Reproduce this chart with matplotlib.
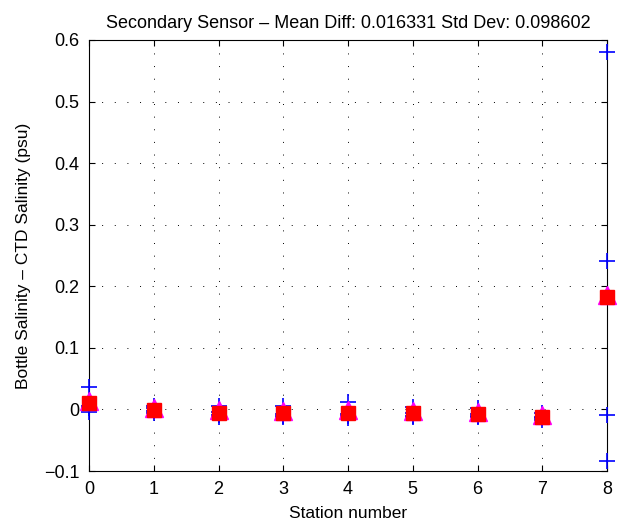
import matplotlib
matplotlib.use("Agg")
import matplotlib.pyplot as plt
import matplotlib.transforms as mtransforms
import numpy as np

plt.rcParams['font.family'] = ['Liberation Sans', 'DejaVu Sans']

stations = [0, 1, 2, 3, 4, 5, 6, 7, 8]
diffs = [
    [0.037, 0.005, 0.002, -0.004],
    [0.005, 0.002, -0.003, -0.006],
    [0.006, -0.004, -0.009, -0.013],
    [0.006, -0.008, -0.010, -0.012],
    [0.012, -0.008, -0.010, -0.014],
    [0.004, -0.006, -0.010, -0.012],
    [0.002, -0.008, -0.010, -0.012],
    [-0.005, -0.012, -0.014, -0.017],
    [0.580, 0.2415, -0.009, -0.083],
]
title = "Secondary Sensor \u2013 Mean Diff: 0.016331 Std Dev: 0.098602"
xticks = [0, 1, 2, 3, 4, 5, 6, 7, 8]
yticks = [-0.1, 0, 0.1, 0.2, 0.3, 0.4, 0.5, 0.6]
ytick_labels = ["\u22120.1", "0", "0.1", "0.2", "0.3", "0.4", "0.5", "0.6"]

fig = plt.figure(figsize=(6.31, 5.31), dpi=100)
ax = fig.add_axes([89/631, 60/531, (607-89)/631, (471-40)/531])

for s, vals in zip(stations, diffs):
    ax.plot([s]*len(vals), vals, linestyle='none', marker='+', color='#0000ff',
            markersize=11, markeredgewidth=1.2, clip_on=False, zorder=3)
means = [np.mean(v) for v in diffs]
tri_trans = mtransforms.offset_copy(ax.transData, fig=fig, x=0, y=1.6, units='points')
ax.plot(stations, means, linestyle='none', marker='^', color='#ff00ff',
        markersize=12.5, clip_on=False, zorder=4, transform=tri_trans)
ax.plot(stations, means, linestyle='none', marker='s', color='#ff0000',
        markersize=9.5, clip_on=False, zorder=5)

ax.set_xlim(0, 8)
ax.set_ylim(-0.1, 0.6)
ax.set_xticks(xticks)
ax.set_yticks(yticks)
ax.set_yticklabels(ytick_labels)
ax.tick_params(direction='in', top=True, right=True, length=4, labelsize=13, width=0.8)
ax.tick_params(axis='x', pad=7)
ax.tick_params(axis='y', pad=7)
ax.grid(True, color='black', linestyle=(0, (1, 12)), linewidth=0.7)
for sp in ax.spines.values():
    sp.set_linewidth(0.8)
ax.set_xlabel("Station number", fontsize=12.5, labelpad=6)
ax.set_ylabel("Bottle Salinity \u2013 CTD Salinity (psu)", fontsize=12.5, labelpad=9)
ax.set_title(title, fontsize=13, pad=9)

fig.savefig("out.png", dpi=100)
